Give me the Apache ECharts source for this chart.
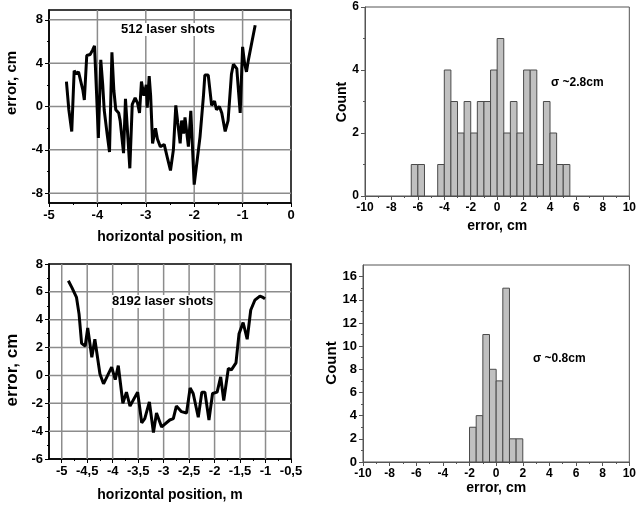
<!DOCTYPE html>
<html>
<head>
<meta charset="utf-8">
<script src="https://cdn.jsdelivr.net/npm/echarts@6/dist/echarts.min.js"></script>
<style>
  html, body { margin: 0; padding: 0; background: #fff; }
  #main { width: 639px; height: 505px; }
</style>
</head>
<body>
<div id="main"></div>
<script>
// 512 laser shots: position (m) / error (cm)
const pos512 = [-4.64, -4.59, -4.53, -4.48, -4.43, -4.39, -4.36, -4.30, -4.27, -4.22, -4.15, -4.10, -4.06, -4.02, -3.98,
  -3.93, -3.89, -3.86, -3.80, -3.75, -3.70, -3.66, -3.62, -3.56, -3.53, -3.46, -3.42, -3.33, -3.28, -3.22, -3.17,
  -3.13, -3.09, -3.04, -2.99, -2.97, -2.93, -2.90, -2.86, -2.80, -2.76, -2.70, -2.62, -2.55, -2.49, -2.43, -2.38,
  -2.34, -2.29, -2.26, -2.22, -2.19, -2.12, -2.07, -2.00, -1.88, -1.81, -1.78, -1.71, -1.64, -1.58, -1.54, -1.48,
  -1.43, -1.36, -1.30, -1.23, -1.19, -1.12, -1.05, -1.00, -0.96, -0.92, -0.88, -0.81, -0.74];
const err512 = [2.3, -0.3, -2.3, 3.3, 3.0, 3.2, 3.2, 1.5, 0.6, 4.7, 4.8, 5.2, 5.6, 1.5, -2.9,
  4.3, 2.0, -0.3, -2.5, -4.2, 5.0, 1.5, -0.3, -0.6, -1.3, -4.3, 0.7, -5.7, 0.2, 0.8, 0.3,
  -0.6, 2.3, 1.0, 2.0, -0.1, 2.8, 1.0, -3.4, -2.0, -3.0, -3.7, -3.5, -4.8, -5.9, -4.0, 0.1,
  -1.5, -3.4, -1.3, -2.5, -1.0, -3.7, -0.4, -7.2, -2.8, 0.9, 2.9, 2.9, 0.1, 0.5, -0.3, 0.0,
  -0.6, -2.3, -1.3, 3.0, 3.9, 3.5, -0.6, 5.5, 4.0, 3.2, 4.3, 5.9, 7.5];

// 8192 laser shots
const pos8192 = [-4.87, -4.80, -4.71, -4.66, -4.61, -4.54, -4.49, -4.41, -4.35, -4.25, -4.18, -4.02, -3.95, -3.89,
  -3.80, -3.73, -3.66, -3.51, -3.43, -3.37, -3.28, -3.20, -3.14, -3.04, -2.88, -2.81, -2.75, -2.65, -2.55, -2.48,
  -2.42, -2.32, -2.25, -2.19, -2.11, -2.04, -1.95, -1.88, -1.82, -1.73, -1.67, -1.58, -1.52, -1.44, -1.36, -1.29,
  -1.21, -1.11, -1.05, -1.01];
const err8192 = [6.8, 6.3, 5.6, 4.4, 2.3, 2.1, 3.4, 1.3, 2.6, 0.1, -0.6, 0.6, -0.3, 0.7,
  -2.0, -1.2, -2.2, -1.2, -3.4, -3.1, -1.9, -4.1, -2.7, -3.7, -3.2, -3.1, -2.2, -2.6, -2.7, -0.9,
  -1.3, -3.0, -1.2, -1.2, -3.2, -1.3, -1.2, -0.1, -1.8, 0.5, 0.4, 0.9, 3.0, 3.8, 2.6, 4.7,
  5.4, 5.7, 5.6, 5.5];

// histograms: left edge of each 0.5 cm bin, and its count
const bins512 = [-6.5, -6, -5.5, -5, -4.5, -4, -3.5, -3, -2.5, -2, -1.5, -1, -0.5, 0, 0.5, 1, 1.5, 2, 2.5, 3, 3.5, 4, 4.5, 5];
const counts512 = [1, 1, 0, 0, 1, 4, 3, 2, 3, 2, 3, 3, 4, 5, 2, 3, 2, 4, 4, 1, 3, 2, 1, 1];
const bins8192 = [-2, -1.5, -1, -0.5, 0, 0.5, 1, 1.5];
const counts8192 = [3, 4, 11, 8, 7, 15, 2, 2];
const binWidth = 0.5;

// tick values
const tlX = [-5, -4, -3, -2, -1, 0], tlXm = [-4.5, -3.5, -2.5, -1.5, -0.5];
const tlY = [-8, -4, 0, 4, 8], tlYm = [-6, -2, 2, 6];
const blX = [-5, -4.5, -4, -3.5, -3, -2.5, -2, -1.5, -1, -0.5];
const blXm = [-4.75, -4.25, -3.75, -3.25, -2.75, -2.25, -1.75, -1.25, -0.75];
const blY = [-6, -4, -2, 0, 2, 4, 6, 8], blYm = [-5, -3, -1, 1, 3, 5, 7];
const hX = [-10, -8, -6, -4, -2, 0, 2, 4, 6, 8, 10], hXm = [-9, -7, -5, -3, -1, 1, 3, 5, 7, 9];
const trY = [0, 2, 4, 6], trYm = [1, 3, 5];
const brY = [0, 2, 4, 6, 8, 10, 12, 14, 16], brYm = [1, 3, 5, 7, 9, 11, 13, 15];

const FONT = 'Liberation Sans';

// main axis with labelled ticks + a second axis carrying only the minor ticks
function axisPair(dim, grid, min, max, majors, minors, o) {
  o = o || {};
  const lineColor = o.lineColor || '#000';
  const main = {
    type: 'value', gridIndex: grid, min: min, max: max,
    axisLine: { show: true, onZero: false, lineStyle: { color: lineColor, width: o.lineWidth || 1.5 } },
    axisTick: { show: true, inside: false, length: 4, customValues: majors, lineStyle: { color: lineColor, width: 1 } },
    axisLabel: { customValues: majors, margin: 6, formatter: o.fmt, color: '#000', fontFamily: FONT, fontWeight: 'bold', fontSize: o.labelSize || 12 },
    splitLine: { show: false },
    name: o.name || '', nameLocation: 'middle', nameGap: o.nameGap || 20,
    nameTextStyle: { color: '#000', fontFamily: FONT, fontWeight: 'bold', fontSize: 14 }
  };
  const minor = {
    type: 'value', gridIndex: grid, min: min, max: max,
    axisLine: { show: false, onZero: false },
    axisTick: { show: true, inside: false, length: 2, customValues: minors, lineStyle: { color: lineColor, width: 1 } },
    axisLabel: { show: false }, splitLine: { show: false }
  };
  main.position = minor.position = (dim === 'y') ? 'left' : 'bottom';
  return [main, minor];
}

// gray grid lines at the inner major ticks, as one broken polyline
function gridSeries(axisIdx, xs, xmin, xmax, ys, ymin, ymax) {
  const data = [];
  xs.filter(v => v > xmin && v < xmax).forEach(v => { data.push([v, ymin], [v, ymax], [v, '-']); });
  ys.filter(v => v > ymin && v < ymax).forEach(v => { data.push([xmin, v], [xmax, v], ['-', v]); });
  return {
    type: 'line', xAxisIndex: axisIdx, yAxisIndex: axisIdx, z: 2, silent: true,
    showSymbol: false, connectNulls: false,
    data: data,
    lineStyle: { color: '#8c8c8c', width: 1.5 }
  };
}

const comma = v => String(v).replace('.', ',');

const xAxes = [].concat(
  axisPair('x', 0, -5, 0, tlX, tlXm, { name: 'horizontal position, m', nameGap: 27, labelSize: 13 }),
  axisPair('x', 1, -10, 10, hX, hXm, { name: 'error, cm', nameGap: 23, lineColor: '#555', lineWidth: 1 }),
  axisPair('x', 2, -5.25, -0.5, blX, blXm, { fmt: comma, name: 'horizontal position, m', nameGap: 29, labelSize: 13 }),
  axisPair('x', 3, -10, 10, hX, hXm, { name: 'error, cm', nameGap: 18, lineColor: '#555', lineWidth: 1 })
);
const yAxes = [].concat(
  axisPair('y', 0, -8.9, 8.9, tlY, tlYm, { labelSize: 13 }),
  axisPair('y', 1, 0, 6, trY, trYm, { lineColor: '#555', lineWidth: 1 }),
  axisPair('y', 2, -6, 8, blY, blYm, { labelSize: 13 }),
  axisPair('y', 3, 0, 17, brY, brYm, { lineColor: '#555', lineWidth: 1, labelSize: 13 })
);

function histSeries(idx, bins, counts) {
  return {
    type: 'custom', xAxisIndex: idx * 2, yAxisIndex: idx * 2, z: 3,
    data: bins.map((b, i) => [b, counts[i]]),
    renderItem: function (params, api) {
      const x0 = api.value(0), c = api.value(1);
      if (!c) return null;
      const p0 = api.coord([x0, c]);
      const p1 = api.coord([x0 + binWidth, 0]);
      return {
        type: 'rect',
        shape: { x: p0[0], y: p0[1], width: p1[0] - p0[0], height: p1[1] - p0[1] },
        style: { fill: '#c0c0c0', stroke: '#4a4a4a', lineWidth: 1 }
      };
    }
  };
}

const chart = echarts.init(document.getElementById('main'), null, { renderer: 'canvas' });
chart.setOption({
  backgroundColor: '#fff',
  animation: false,
  grid: [
    { left: 49, top: 10, width: 242, height: 193, show: true, borderColor: '#000', borderWidth: 1.5, backgroundColor: 'transparent' },
    { left: 365, top: 7, width: 266, height: 189, show: true, borderColor: '#555', borderWidth: 1, backgroundColor: 'transparent' },
    { left: 49, top: 264, width: 242, height: 195, show: true, borderColor: '#000', borderWidth: 1.5, backgroundColor: 'transparent' },
    { left: 363, top: 265, width: 270, height: 197, show: true, borderColor: '#555', borderWidth: 1, backgroundColor: 'transparent' }
  ],
  xAxis: xAxes,
  yAxis: yAxes,
  series: [
    gridSeries(0, tlX, -5, 0, tlY, -8.9, 8.9),
    {
      type: 'line', xAxisIndex: 0, yAxisIndex: 0, z: 4, showSymbol: false,
      data: pos512.map((x, i) => [x, err512[i]]),
      lineStyle: { color: '#000', width: 3 }
    },
    histSeries(1, bins512, counts512),
    gridSeries(4, blX, -5.25, -0.5, blY, -6, 8),
    {
      type: 'line', xAxisIndex: 4, yAxisIndex: 4, z: 4, showSymbol: false,
      data: pos8192.map((x, i) => [x, err8192[i]]),
      lineStyle: { color: '#000', width: 3 }
    },
    histSeries(3, bins8192, counts8192)
  ],
  graphic: [
    { type: 'text', left: 121, top: 23, z: 10, style: { text: '512 laser shots', font: 'bold 13px "Liberation Sans"', fill: '#000', backgroundColor: '#fff' } },
    { type: 'text', left: 112, top: 295, z: 10, style: { text: '8192 laser shots', font: 'bold 13px "Liberation Sans"', fill: '#000', backgroundColor: '#fff' } },
    { type: 'text', left: 551, top: 77, style: { text: 'σ ~2.8cm', font: 'bold 12px "Liberation Sans"', fill: '#000' } },
    { type: 'text', left: 533, top: 353, style: { text: 'σ ~0.8cm', font: 'bold 12px "Liberation Sans"', fill: '#000' } },
    { type: 'text', x: 12, y: 83, rotation: Math.PI / 2, style: { text: 'error, cm', font: 'bold 15px "Liberation Sans"', fill: '#000', align: 'center', verticalAlign: 'middle' } },
    { type: 'text', x: 342, y: 102, rotation: Math.PI / 2, style: { text: 'Count', font: 'bold 14px "Liberation Sans"', fill: '#000', align: 'center', verticalAlign: 'middle' } },
    { type: 'text', x: 12, y: 370, rotation: Math.PI / 2, style: { text: 'error, cm', font: 'bold 17px "Liberation Sans"', fill: '#000', align: 'center', verticalAlign: 'middle' } },
    { type: 'text', x: 332, y: 363, rotation: Math.PI / 2, style: { text: 'Count', font: 'bold 15px "Liberation Sans"', fill: '#000', align: 'center', verticalAlign: 'middle' } }
  ]
});
</script>
</body>
</html>
